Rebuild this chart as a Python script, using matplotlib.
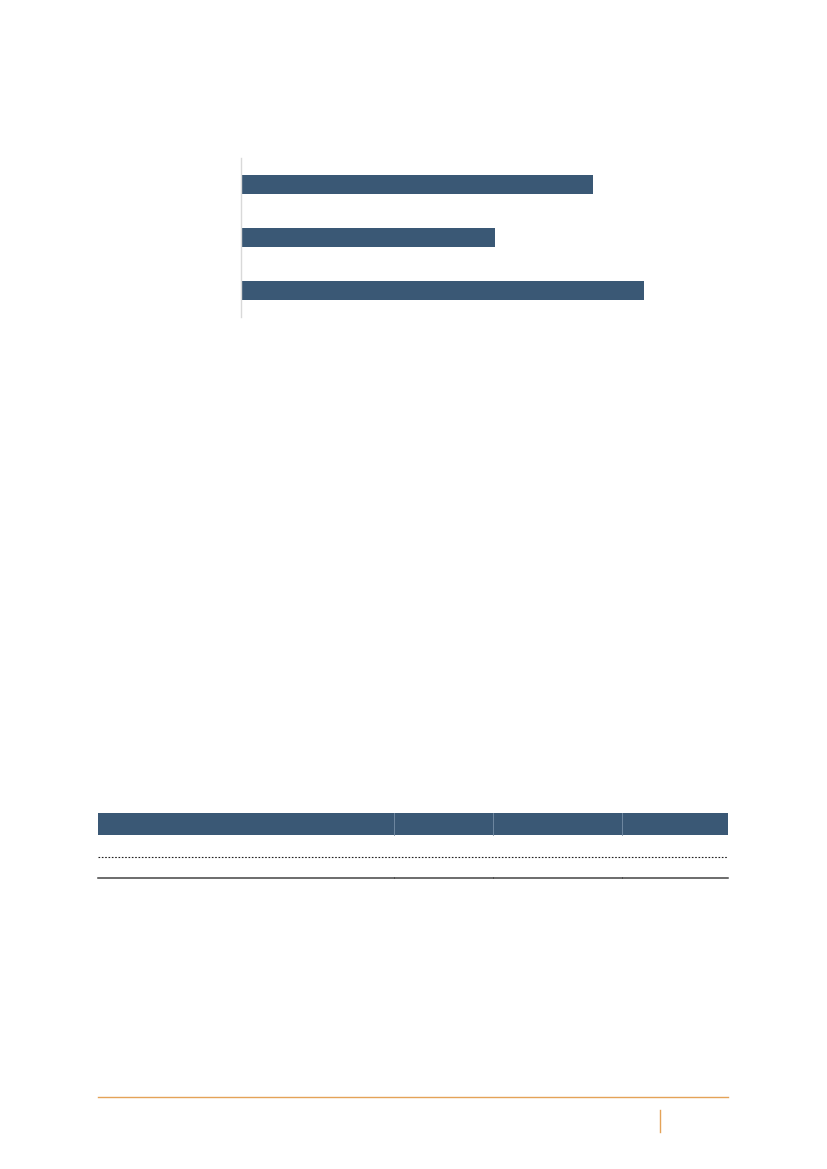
import matplotlib
matplotlib.use("Agg")
import matplotlib.pyplot as plt
import matplotlib.patches as patches

# chart data (no labels are printed on the page)
categories = ["A", "B", "C"]
values = [87.3, 63.0, 100.0]

# empty table: four columns, one body row
table_columns = ["", "", "", ""]
table_rows = [["", "", "", ""]]

BLUE = "#3A5875"
ORANGE = "#E4A358"

W, H = 827, 1169
fig = plt.figure(figsize=(W / 100, H / 100), dpi=100)
fig.patch.set_facecolor("white")

# bar chart
ax = fig.add_axes([241 / W, 1 - 317 / H, 459.4 / W, 159 / H])
ax.barh(range(len(categories)), values, height=0.36, color=BLUE)
ax.set_xlim(0, 114)
ax.set_ylim(len(categories) - 0.5, -0.5)
for side in ["top", "right", "bottom"]:
	ax.spines[side].set_visible(False)
ax.spines["left"].set_color("#D9D9D9")
ax.spines["left"].set_linewidth(1.0)
ax.set_xticks([])
ax.set_yticks([])
ax.patch.set_visible(False)

# page overlay in pixel coordinates
page = fig.add_axes([0, 0, 1, 1])
page.set_xlim(0, W)
page.set_ylim(H, 0)
page.axis("off")
page.patch.set_visible(False)

# table
left, right = 98, 728
col_edges = [left, 394, 493, 622, right]
header_top, header_bottom = 813, 835
row_h = 22
page.add_patch(patches.Rectangle((left, header_top), right - left, header_bottom - header_top,
	facecolor=BLUE, edgecolor="none"))
for x in col_edges[1:-1]:
	page.plot([x, x], [header_top, header_bottom], color="#7890A8", lw=0.6)

y = header_bottom
for i, row in enumerate(table_rows):
	y_line = header_bottom + row_h * (i + 1)
	page.plot([left, right], [y_line, y_line], color="#222222", lw=0.8, ls=(0, (1.5, 1.5)))
y_bottom = 878
page.plot([left, right], [y_bottom, y_bottom], color="#444444", lw=1.1)
for x in col_edges[1:-1]:
	page.plot([x, x], [y_bottom - 1.5, y_bottom], color="#444444", lw=0.6)

# footer
page.plot([left, right], [1097, 1097], color=ORANGE, lw=1.0)
page.plot([659.5, 659.5], [1110, 1132], color=ORANGE, lw=1.0)

fig.savefig("out.png", dpi=100, facecolor="white")
